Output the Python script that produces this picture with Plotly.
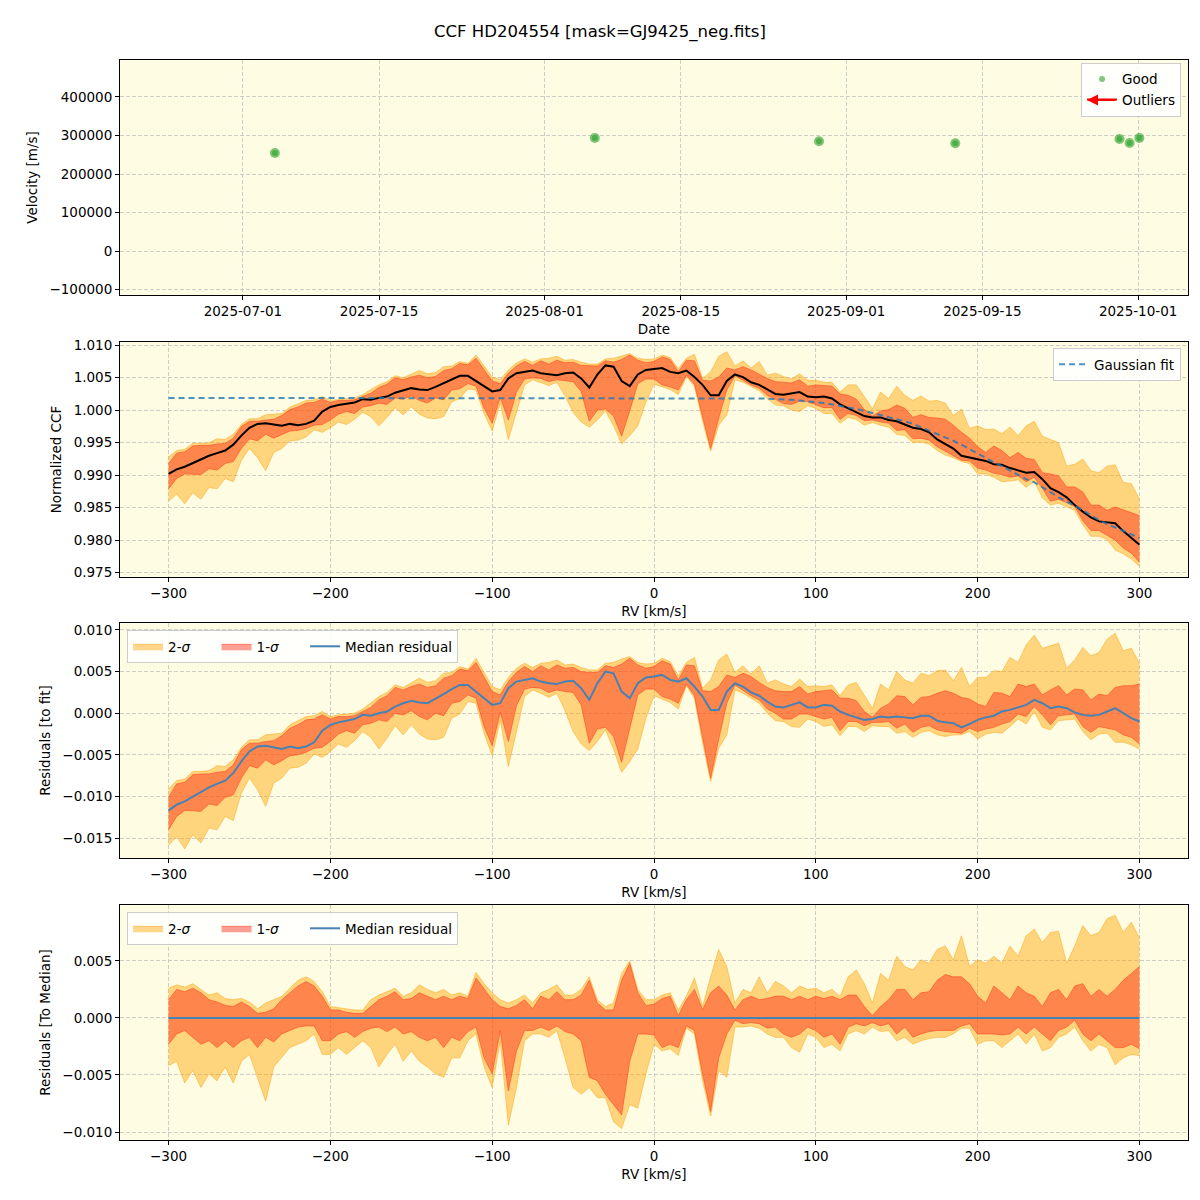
import plotly.graph_objects as go

# ---------------- data ----------------
obs_dates = ["2025-07-04 07:00", "2025-08-06 04:00", "2025-08-29 05:00", "2025-09-12 05:00",
             "2025-09-29 02:00", "2025-09-30 03:00", "2025-10-01 03:00"]
obs_vel = [254500, 293500, 285000, 279700, 291000, 280500, 293500]

rv = list(range(-300, 305, 5))

# Gaussian fit (normalized CCF)
gfit = [1.0019] * 71 + [
    1.0019, 1.0018, 1.0018, 1.0018, 1.0017, 1.0017, 1.0016, 1.0015, 1.0014, 1.0013,
    1.0011, 1.0009, 1.0007, 1.0005, 1.0002, 0.9999, 0.9996, 0.9993, 0.9990, 0.9987,
    0.9983, 0.9979, 0.9974, 0.9969, 0.9964, 0.9959, 0.9953, 0.9947, 0.9940, 0.9933,
    0.9927, 0.9920, 0.9914, 0.9907, 0.9900, 0.9894, 0.9889, 0.9882, 0.9874, 0.9866,
    0.9860, 0.9853, 0.9846, 0.9838, 0.9831, 0.9825, 0.9820, 0.9814, 0.9809, 0.9803]

# median residual to the fit
med_res = [
    -0.0117, -0.0110, -0.0106, -0.0100, -0.0095, -0.0089, -0.0085, -0.0081, -0.0072, -0.0058,
    -0.0046, -0.0040, -0.0039, -0.0041, -0.0043, -0.0040, -0.0042, -0.0040, -0.0035, -0.0021,
    -0.0014, -0.0011, -0.0009, -0.0007, -0.0002, -0.0003, 0.0000, 0.0002, 0.0008, 0.0012,
    0.0015, 0.0013, 0.0012, 0.0017, 0.0023, 0.0029, 0.0034, 0.0034, 0.0026, 0.0019,
    0.0010, 0.0012, 0.0030, 0.0038, 0.0040, 0.0042, 0.0038, 0.0036, 0.0035, 0.0038,
    0.0039, 0.0030, 0.0016, 0.0036, 0.0050, 0.0048, 0.0026, 0.0018, 0.0036, 0.0043,
    0.0044, 0.0046, 0.0040, 0.0038, 0.0042, 0.0032, 0.0020, 0.0004, 0.0004, 0.0026,
    0.0036, 0.0032, 0.0025, 0.0021, 0.0014, 0.0008, 0.0007, 0.0010, 0.0013, 0.0007,
    0.0007, 0.0010, 0.0009, 0.0002, -0.0002, -0.0005, -0.0008, -0.0007, -0.0004, -0.0005,
    -0.0004, -0.0005, -0.0006, -0.0003, -0.0003, -0.0009, -0.0011, -0.0012, -0.0017, -0.0013,
    -0.0008, -0.0005, -0.0003, 0.0002, 0.0004, 0.0007, 0.0010, 0.0016, 0.0012, 0.0006,
    0.0008, 0.0006, 0.0001, -0.0002, -0.0003, -0.0002, 0.0002, 0.0006, 0.0000, -0.0006,
    -0.0010]

# band offsets relative to the median
s1_hi = [
    0.0016, 0.0025, 0.0023, 0.0026, 0.0022, 0.0016, 0.0014, 0.0011, 0.0010, 0.0014,
    0.0010, 0.0004, 0.0005, 0.0008, 0.0016, 0.0022, 0.0028, 0.0032, 0.0028, 0.0019,
    0.0007, 0.0007, 0.0005, 0.0004, 0.0004, 0.0010, 0.0016, 0.0019, 0.0023, 0.0016,
    0.0017, 0.0022, 0.0019, 0.0016, 0.0019, 0.0016, 0.0019, 0.0017, 0.0035, 0.0025,
    0.0016, 0.0010, 0.0008, 0.0011, 0.0016, 0.0008, 0.0019, 0.0016, 0.0023, 0.0016,
    0.0016, 0.0020, 0.0033, 0.0013, 0.0007, 0.0007, 0.0033, 0.0048, 0.0022, 0.0011,
    0.0012, 0.0017, 0.0019, 0.0002, 0.0016, 0.0025, 0.0007, 0.0022, 0.0028, 0.0020,
    0.0007, 0.0016, 0.0019, 0.0016, 0.0017, 0.0019, 0.0019, 0.0016, 0.0019, 0.0016,
    0.0019, 0.0017, 0.0019, 0.0016, 0.0020, 0.0020, 0.0010, 0.0002, 0.0010, 0.0016,
    0.0025, 0.0025, 0.0016, 0.0022, 0.0023, 0.0033, 0.0038, 0.0036, 0.0036, 0.0030,
    0.0019, 0.0013, 0.0028, 0.0022, 0.0016, 0.0028, 0.0022, 0.0019, 0.0010, 0.0022,
    0.0025, 0.0016, 0.0028, 0.0030, 0.0019, 0.0025, 0.0019, 0.0025, 0.0033, 0.0039,
    0.0045]
s1_lo = [
    -0.0023, -0.0014, -0.0011, -0.0017, -0.0023, -0.0020, -0.0026, -0.0020, -0.0026, -0.0020,
    -0.0017, -0.0026, -0.0017, -0.0021, -0.0014, -0.0011, -0.0008, -0.0007, -0.0007, -0.0020,
    -0.0020, -0.0014, -0.0012, -0.0017, -0.0012, -0.0009, -0.0008, -0.0012, -0.0008, -0.0014,
    -0.0012, -0.0017, -0.0020, -0.0017, -0.0026, -0.0017, -0.0020, -0.0012, -0.0008, -0.0035,
    -0.0049, -0.0011, -0.0064, -0.0029, -0.0011, -0.0011, -0.0008, -0.0011, -0.0007, -0.0012,
    -0.0014, -0.0020, -0.0052, -0.0055, -0.0067, -0.0076, -0.0085, -0.0038, -0.0014, -0.0014,
    -0.0015, -0.0026, -0.0023, -0.0026, -0.0007, -0.0011, -0.0049, -0.0082, -0.0035, -0.0014,
    -0.0002, -0.0005, -0.0004, -0.0005, -0.0009, -0.0008, -0.0014, -0.0017, -0.0014, -0.0008,
    -0.0011, -0.0017, -0.0014, -0.0023, -0.0008, -0.0005, -0.0007, -0.0004, -0.0007, -0.0005,
    -0.0014, -0.0008, -0.0017, -0.0014, -0.0012, -0.0011, -0.0011, -0.0011, -0.0007, -0.0005,
    -0.0014, -0.0014, -0.0014, -0.0015, -0.0014, -0.0008, -0.0014, -0.0008, -0.0014, -0.0020,
    -0.0011, -0.0008, -0.0002, -0.0014, -0.0020, -0.0014, -0.0020, -0.0026, -0.0026, -0.0023,
    -0.0027]
s2_hi = [
    0.0026, 0.0029, 0.0027, 0.0030, 0.0025, 0.0020, 0.0022, 0.0017, 0.0016, 0.0017,
    0.0014, 0.0008, 0.0013, 0.0016, 0.0019, 0.0026, 0.0033, 0.0036, 0.0032, 0.0023,
    0.0010, 0.0009, 0.0008, 0.0007, 0.0007, 0.0016, 0.0020, 0.0023, 0.0026, 0.0019,
    0.0022, 0.0029, 0.0025, 0.0022, 0.0025, 0.0020, 0.0022, 0.0019, 0.0040, 0.0030,
    0.0022, 0.0016, 0.0013, 0.0016, 0.0020, 0.0013, 0.0022, 0.0025, 0.0029, 0.0020,
    0.0020, 0.0025, 0.0036, 0.0016, 0.0010, 0.0013, 0.0039, 0.0050, 0.0025, 0.0016,
    0.0016, 0.0020, 0.0022, 0.0007, 0.0019, 0.0035, 0.0010, 0.0036, 0.0060, 0.0045,
    0.0013, 0.0025, 0.0022, 0.0036, 0.0022, 0.0032, 0.0028, 0.0022, 0.0028, 0.0025,
    0.0026, 0.0022, 0.0025, 0.0019, 0.0036, 0.0042, 0.0030, 0.0013, 0.0039, 0.0033,
    0.0054, 0.0045, 0.0042, 0.0051, 0.0048, 0.0060, 0.0063, 0.0051, 0.0072, 0.0045,
    0.0051, 0.0048, 0.0054, 0.0048, 0.0063, 0.0054, 0.0072, 0.0078, 0.0066, 0.0075,
    0.0076, 0.0048, 0.0063, 0.0081, 0.0072, 0.0075, 0.0087, 0.0090, 0.0075, 0.0084,
    0.0070]
s2_lo = [
    -0.0042, -0.0038, -0.0057, -0.0046, -0.0061, -0.0049, -0.0055, -0.0043, -0.0057, -0.0038,
    -0.0032, -0.0052, -0.0073, -0.0043, -0.0035, -0.0026, -0.0023, -0.0020, -0.0014, -0.0032,
    -0.0032, -0.0026, -0.0032, -0.0026, -0.0020, -0.0026, -0.0043, -0.0032, -0.0023, -0.0038,
    -0.0029, -0.0038, -0.0043, -0.0049, -0.0052, -0.0035, -0.0035, -0.0020, -0.0014, -0.0043,
    -0.0061, -0.0020, -0.0094, -0.0061, -0.0020, -0.0014, -0.0014, -0.0017, -0.0011, -0.0035,
    -0.0061, -0.0067, -0.0061, -0.0070, -0.0070, -0.0091, -0.0097, -0.0076, -0.0079, -0.0049,
    -0.0023, -0.0029, -0.0027, -0.0033, -0.0009, -0.0014, -0.0055, -0.0086, -0.0046, -0.0052,
    -0.0008, -0.0008, -0.0007, -0.0009, -0.0014, -0.0017, -0.0017, -0.0026, -0.0030, -0.0014,
    -0.0017, -0.0026, -0.0023, -0.0029, -0.0014, -0.0011, -0.0014, -0.0008, -0.0012, -0.0011,
    -0.0020, -0.0017, -0.0023, -0.0020, -0.0018, -0.0017, -0.0017, -0.0014, -0.0009, -0.0009,
    -0.0023, -0.0020, -0.0020, -0.0026, -0.0020, -0.0014, -0.0023, -0.0014, -0.0029, -0.0026,
    -0.0017, -0.0014, -0.0008, -0.0020, -0.0029, -0.0023, -0.0026, -0.0041, -0.0035, -0.0032,
    -0.0033]

# ---------------- derived series ----------------
ccf_med = [g + r for g, r in zip(gfit, med_res)]


def add(a, b):
    return [x + y for x, y in zip(a, b)]


C2 = "rgba(255,165,0,0.45)"
C2L = "rgba(255,170,30,0.55)"
C1 = "rgba(255,40,20,0.45)"
C1L = "rgba(255,60,30,0.55)"
BLUE = "#4682b4"
PAD = "\u00a0" * 5

fig = go.Figure()

# panel 1
fig.add_trace(go.Scatter(x=obs_dates, y=obs_vel, mode="markers", name="Good",
                         marker=dict(size=6, color="rgba(44,160,44,0.6)"),
                         xaxis="x", yaxis="y", legend="legend"))
fig.add_trace(go.Scatter(x=obs_dates, y=obs_vel, mode="markers", showlegend=False,
                         marker=dict(size=10, color="rgba(44,160,44,0.6)"),
                         xaxis="x", yaxis="y", hoverinfo="skip"))
fig.add_trace(go.Scatter(x=[None], y=[None], mode="lines", name="Outliers",
                         line=dict(color="red", width=2), xaxis="x", yaxis="y", legend="legend"))


def bands(base, xa, ya, leg, show):
    fig.add_trace(go.Scatter(x=rv, y=add(base, s2_lo), mode="lines", line=dict(color=C2L, width=1),
                             showlegend=False, xaxis=xa, yaxis=ya, hoverinfo="skip"))
    fig.add_trace(go.Scatter(x=rv, y=add(base, s2_hi), mode="lines", line=dict(color=C2L, width=1),
                             fill="tonexty", fillcolor=C2, name="2-<i>σ</i>" + PAD, showlegend=show,
                             xaxis=xa, yaxis=ya, legend=leg))
    fig.add_trace(go.Scatter(x=rv, y=add(base, s1_lo), mode="lines", line=dict(color=C1L, width=1),
                             showlegend=False, xaxis=xa, yaxis=ya, hoverinfo="skip"))
    fig.add_trace(go.Scatter(x=rv, y=add(base, s1_hi), mode="lines", line=dict(color=C1L, width=1),
                             fill="tonexty", fillcolor=C1, name="1-<i>σ</i>" + PAD, showlegend=show,
                             xaxis=xa, yaxis=ya, legend=leg))


# panel 2
bands(ccf_med, "x2", "y2", "legend2", False)
fig.add_trace(go.Scatter(x=rv, y=ccf_med, mode="lines", line=dict(color="black", width=2),
                         showlegend=False, xaxis="x2", yaxis="y2"))
fig.add_trace(go.Scatter(x=rv, y=gfit, mode="lines", name="Gaussian fit",
                         line=dict(color="rgba(31,119,180,0.8)", width=2, dash="6px,4px"),
                         xaxis="x2", yaxis="y2", legend="legend2"))

# panel 3
bands(med_res, "x3", "y3", "legend3", True)
fig.add_trace(go.Scatter(x=rv, y=med_res, mode="lines", name="Median residual",
                         line=dict(color=BLUE, width=2), xaxis="x3", yaxis="y3", legend="legend3"))

# panel 4
zero = [m - m for m in ccf_med]
bands(zero, "x4", "y4", "legend4", True)
fig.add_trace(go.Scatter(x=rv, y=zero, mode="lines", name="Median residual",
                         line=dict(color=BLUE, width=2), xaxis="x4", yaxis="y4", legend="legend4"))

FONT = dict(family="DejaVu Sans", size=13.5, color="black")
grid = dict(showgrid=True, gridcolor="rgba(190,190,190,0.75)", griddash="4px,2px", gridwidth=1,
            showline=True, linecolor="black", linewidth=1, mirror=True, ticks="outside",
            ticklen=4, tickcolor="black", zeroline=False, tickfont=FONT)


def minus(v):
    return v.replace("-", "\u2212")


rv_ticks = [-300, -200, -100, 0, 100, 200, 300]
rv_text = [minus(str(t)) for t in rv_ticks]

date_ticks = ["2025-07-01", "2025-07-15", "2025-08-01", "2025-08-15", "2025-09-01", "2025-09-15", "2025-10-01"]
vel_ticks = [-100000, 0, 100000, 200000, 300000, 400000]

y2_ticks = [0.975, 0.980, 0.985, 0.990, 0.995, 1.000, 1.005, 1.010]
y3_ticks = [-0.015, -0.010, -0.005, 0.0, 0.005, 0.010]
y4_ticks = [-0.010, -0.005, 0.0, 0.005]

TF = dict(family="DejaVu Sans", size=13.5, color="black")
LEG = dict(bgcolor="rgba(255,255,255,0.85)", bordercolor="#cccccc", borderwidth=1, font=FONT,
           traceorder="normal")

fig.update_layout(
    width=1200, height=1200,
    margin=dict(l=120, r=12, t=60, b=60),
    paper_bgcolor="white", plot_bgcolor="#fefce2",
    font=FONT,
    xaxis=dict(grid, type="date", domain=[0, 1], anchor="y",
               range=["2025-06-18 09:00", "2025-10-06 03:00"],
               tickvals=date_ticks, ticktext=date_ticks,
               title=dict(text="Date", font=TF, standoff=6)),
    yaxis=dict(grid, domain=[0.78241, 1.0], anchor="x", range=[-114000, 496000],
               tickvals=vel_ticks, ticktext=[minus(str(v)) for v in vel_ticks],
               title=dict(text="Velocity [m/s]", font=TF, standoff=8)),
    xaxis2=dict(grid, domain=[0, 1], anchor="y2", range=[-330, 330], tickvals=rv_ticks, ticktext=rv_text,
                title=dict(text="RV [km/s]", font=TF, standoff=6)),
    yaxis2=dict(grid, domain=[0.52130, 0.73889], anchor="x2", range=[0.97434, 1.0105],
                tickvals=y2_ticks, ticktext=[f"{v:.3f}" for v in y2_ticks],
                title=dict(text="Normalized CCF", font=TF, standoff=8)),
    xaxis3=dict(grid, domain=[0, 1], anchor="y3", range=[-330, 330], tickvals=rv_ticks, ticktext=rv_text,
                title=dict(text="RV [km/s]", font=TF, standoff=6)),
    yaxis3=dict(grid, domain=[0.26111, 0.47870], anchor="x3", range=[-0.0174, 0.01084],
                tickvals=y3_ticks, ticktext=[minus(f"{v:.3f}") for v in y3_ticks],
                title=dict(text="Residuals [to fit]", font=TF, standoff=8)),
    xaxis4=dict(grid, domain=[0, 1], anchor="y4", range=[-330, 330], tickvals=rv_ticks, ticktext=rv_text,
                title=dict(text="RV [km/s]", font=TF, standoff=6)),
    yaxis4=dict(grid, domain=[0.0, 0.21759], anchor="x4", range=[-0.0107, 0.0099],
                tickvals=y4_ticks, ticktext=[minus(f"{v:.3f}") for v in y4_ticks],
                title=dict(text="Residuals [To Median]", font=TF, standoff=8)),
    legend=dict(LEG, x=0.9935, y=0.9975, xanchor="right", yanchor="top"),
    legend2=dict(LEG, x=0.9935, y=0.7333, xanchor="right", yanchor="top"),
    legend3=dict(LEG, x=0.0066, y=0.4722, xanchor="left", yanchor="top", orientation="h"),
    legend4=dict(LEG, x=0.0066, y=0.2111, xanchor="left", yanchor="top", orientation="h"),
    annotations=[
        dict(text="CCF HD204554 [mask=GJ9425_neg.fits]", xref="paper", yref="paper",
             x=(600 - 120) / 1068, y=1.0259, xanchor="center", yanchor="middle",
             showarrow=False, font=dict(family="DejaVu Sans", size=16.5, color="black")),
        dict(text="", xref="paper", yref="paper", x=(1087 - 120) / 1068, y=(1140 - 100) / 1080,
             ax=30, ay=0, showarrow=True, arrowhead=2, arrowsize=1, arrowwidth=2.2,
             arrowcolor="red", standoff=0),
    ],
    hovermode=False,
)

fig.write_html("out.html")
